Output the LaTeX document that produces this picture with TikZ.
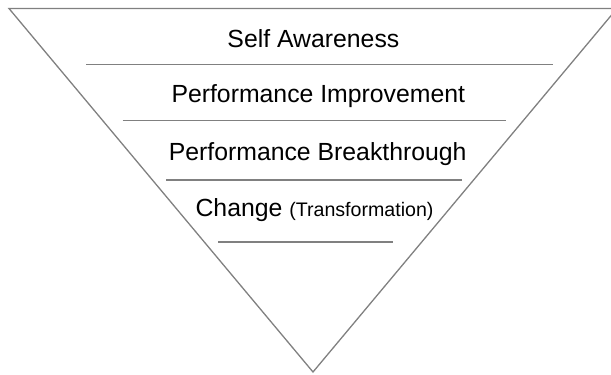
\documentclass[tikz,border=0pt]{standalone}
\usepackage{fontspec}
\setmainfont{Liberation Sans}
\begin{document}
\begin{tikzpicture}[x=1pt,y=-1pt,
  edge/.style={draw=black!50,line width=1.3pt},
  rule/.style={draw=black!50,line width=1.3pt},
  level/.style={anchor=base,inner sep=0pt,font=\fontsize{24.8}{30}\selectfont}]
  \useasboundingbox (0,0) rectangle (611,375);
  \clip (0,0) rectangle (611,375);
  % inverted funnel
  \coordinate (tl) at (9,8.5);
  \coordinate (tr) at (617,8.5);
  \coordinate (apex) at (313,372);
  \draw[edge,line join=miter] (tl) -- (tr) -- (apex) -- cycle;
  % separators between the levels
  \draw[rule] (86,64.3) -- (553,64.3);
  \draw[rule] (122.7,120.7) -- (506,120.7);
  \draw[rule] (166,180) -- (461.7,180);
  \draw[rule] (218,242) -- (392.7,242);
  % level captions
  \node[level] (self) at (313.4,47.3) {Self Awareness};
  \node[level] (improve) at (318.3,102.7) {Performance Improvement};
  \node[level] (break) at (317.7,160.7) {Performance Breakthrough};
  \node[level] (change) at (314.5,216) {Change {\fontsize{19.6}{24}\selectfont (Transformation)}};
\end{tikzpicture}
\end{document}
